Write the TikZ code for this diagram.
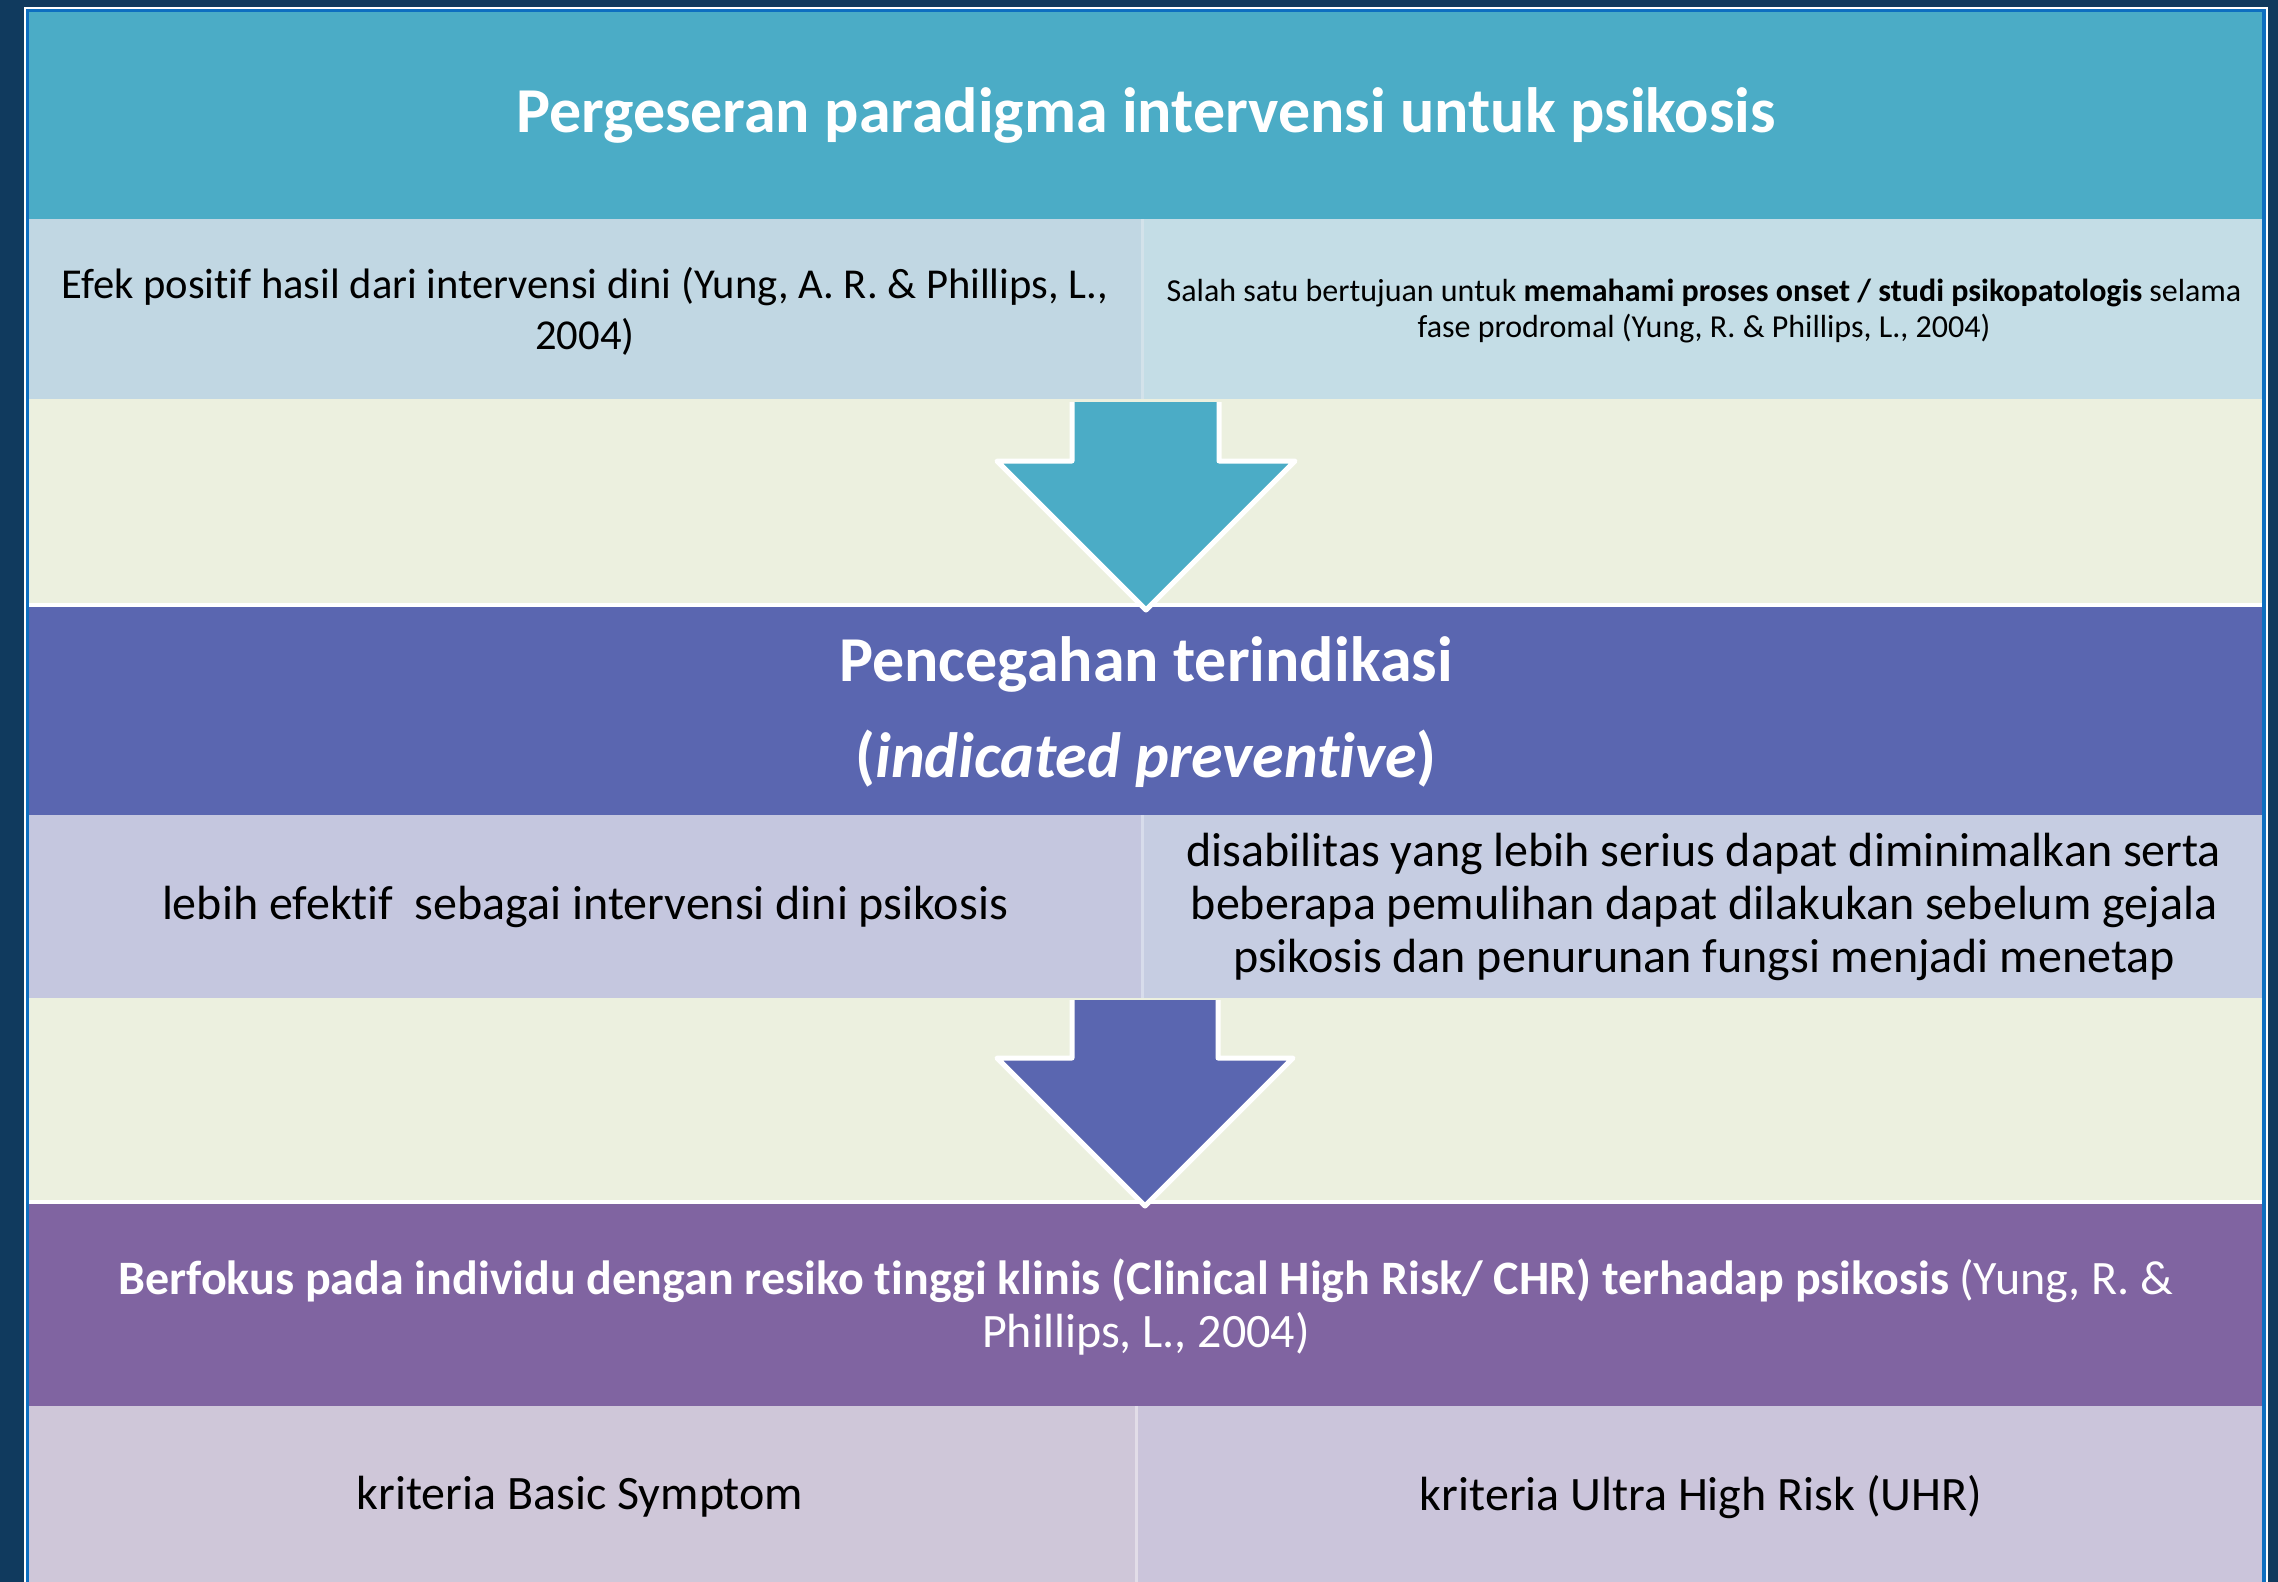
\documentclass[tikz,border=0pt]{standalone}
\usepackage{fontspec}
\setmainfont{Carlito}[Ligatures=NoCommon]
\begin{document}
\begin{tikzpicture}[x=1pt,y=-1pt,
  cell/.style={anchor=north west, inner sep=0pt, outer sep=0pt, draw=none, align=center},
  blockarrow/.style={draw=white, line width=5pt, line join=round},
  whitetxt/.style={text=white, align=center},
  blacktxt/.style={text=black, align=center}]
\definecolor{navy}{HTML}{103A5E}
\definecolor{frameblue}{HTML}{0E6FC0}
\definecolor{titlecol}{HTML}{4BACC6}
\definecolor{rowAl}{HTML}{C1D7E3}
\definecolor{rowAr}{HTML}{C4DDE6}
\definecolor{greenband}{HTML}{ECF0DF}
\definecolor{bandtwo}{HTML}{5A66B0}
\definecolor{rowBl}{HTML}{C5C7DF}
\definecolor{rowBr}{HTML}{C6CDE2}
\definecolor{bandthree}{HTML}{8064A1}
\definecolor{rowCl}{HTML}{CFC7D9}
\definecolor{rowCr}{HTML}{CBC5DB}
\definecolor{sepline}{HTML}{D3E2EA}
% background
\fill[navy] (0,0) rectangle (2278,1582);
\useasboundingbox (0,0) rectangle (2278,1582);
% frame
\fill[white] (24,7) rectangle (2268,1582);
\fill[frameblue] (26,9) rectangle (2266,1582);
% bands
\node[cell, fill=titlecol, minimum width=2233, minimum height=207] (title) at (29,12) {};
\node[cell, fill=rowAl, minimum width=1112, minimum height=180] (r1l) at (29,219) {};
\node[cell, fill=rowAr, minimum width=1118, minimum height=180] (r1r) at (1144,219) {};
\fill[sepline] (1141,219) rectangle (1144,399);
\node[cell, fill=greenband, minimum width=2233, minimum height=205] (g1) at (29,399) {};
\fill[white] (29,603) rectangle (2262,607);
\node[cell, fill=bandtwo, minimum width=2233, minimum height=208] (b2) at (29,607) {};
\node[cell, fill=rowBl, minimum width=1112, minimum height=183] (r2l) at (29,815) {};
\node[cell, fill=rowBr, minimum width=1118, minimum height=183] (r2r) at (1144,815) {};
\fill[rowBr!70!white] (1141,815) rectangle (1144,998);
\node[cell, fill=greenband, minimum width=2233, minimum height=202] (g2) at (29,998) {};
\fill[white] (29,1200) rectangle (2262,1204);
\node[cell, fill=bandthree, minimum width=2233, minimum height=202] (b3) at (29,1204) {};
\node[cell, fill=rowCl, minimum width=1106, minimum height=176] (r3l) at (29,1406) {};
\node[cell, fill=rowCr, minimum width=1124, minimum height=176] (r3r) at (1138,1406) {};
\fill[rowCl!60!white] (1135,1406) rectangle (1138,1582);
% arrows
\draw[blockarrow, fill=titlecol] (1072,402) -- (1072,461) -- (997,461) -- (1146,610) -- (1295,461) -- (1219,461) -- (1219,402);
\draw[blockarrow, fill=bandtwo] (1072,1000) -- (1072,1058) -- (997,1058) -- (1145,1206) -- (1293,1058) -- (1218,1058) -- (1218,1000);
% texts
\node[whitetxt, font=\bfseries\fontsize{64}{77}\selectfont] (t1) at (1146,115) {Pergeseran paradigma intervensi untuk psikosis};
\node[blacktxt, font=\fontsize{42.6}{51}\selectfont] (t2) at (585,311) {Efek positif hasil dari intervensi dini (Yung, A. R. \& Phillips, L.,\\ 2004)};
\node[blacktxt, font=\fontsize{32}{36}\selectfont] (t3) at (1704,311) {Salah satu bertujuan untuk \textbf{memahami proses onset / studi psikopatologis} selama\\ fase prodromal (Yung, R. \& Phillips, L., 2004)};
\node[whitetxt, font=\bfseries\fontsize{64}{96}\selectfont] (t4) at (1146,712) {Pencegahan terindikasi\\ (\textit{indicated preventive})};
\node[blacktxt, font=\fontsize{48}{53}\selectfont] (t5) at (585,907) {lebih efektif\ \ sebagai intervensi dini psikosis};
\node[blacktxt, font=\fontsize{48}{53}\selectfont] (t6) at (1704,907) {disabilitas yang lebih serius dapat diminimalkan serta\\ beberapa pemulihan dapat dilakukan sebelum gejala\\ psikosis dan penurunan fungsi menjadi menetap};
\node[whitetxt, font=\fontsize{48}{53}\selectfont] (t7) at (1146,1307) {\textbf{Berfokus pada individu dengan resiko tinggi klinis (Clinical High Risk/ CHR) terhadap psikosis} (Yung, R. \&\\ Phillips, L., 2004)};
\node[blacktxt, font=\fontsize{48}{53}\selectfont] (t8) at (580,1497) {kriteria Basic Symptom};
\node[blacktxt, font=\fontsize{48}{53}\selectfont] (t9) at (1701,1497) {kriteria Ultra High Risk (UHR)};
\end{tikzpicture}
\end{document}
